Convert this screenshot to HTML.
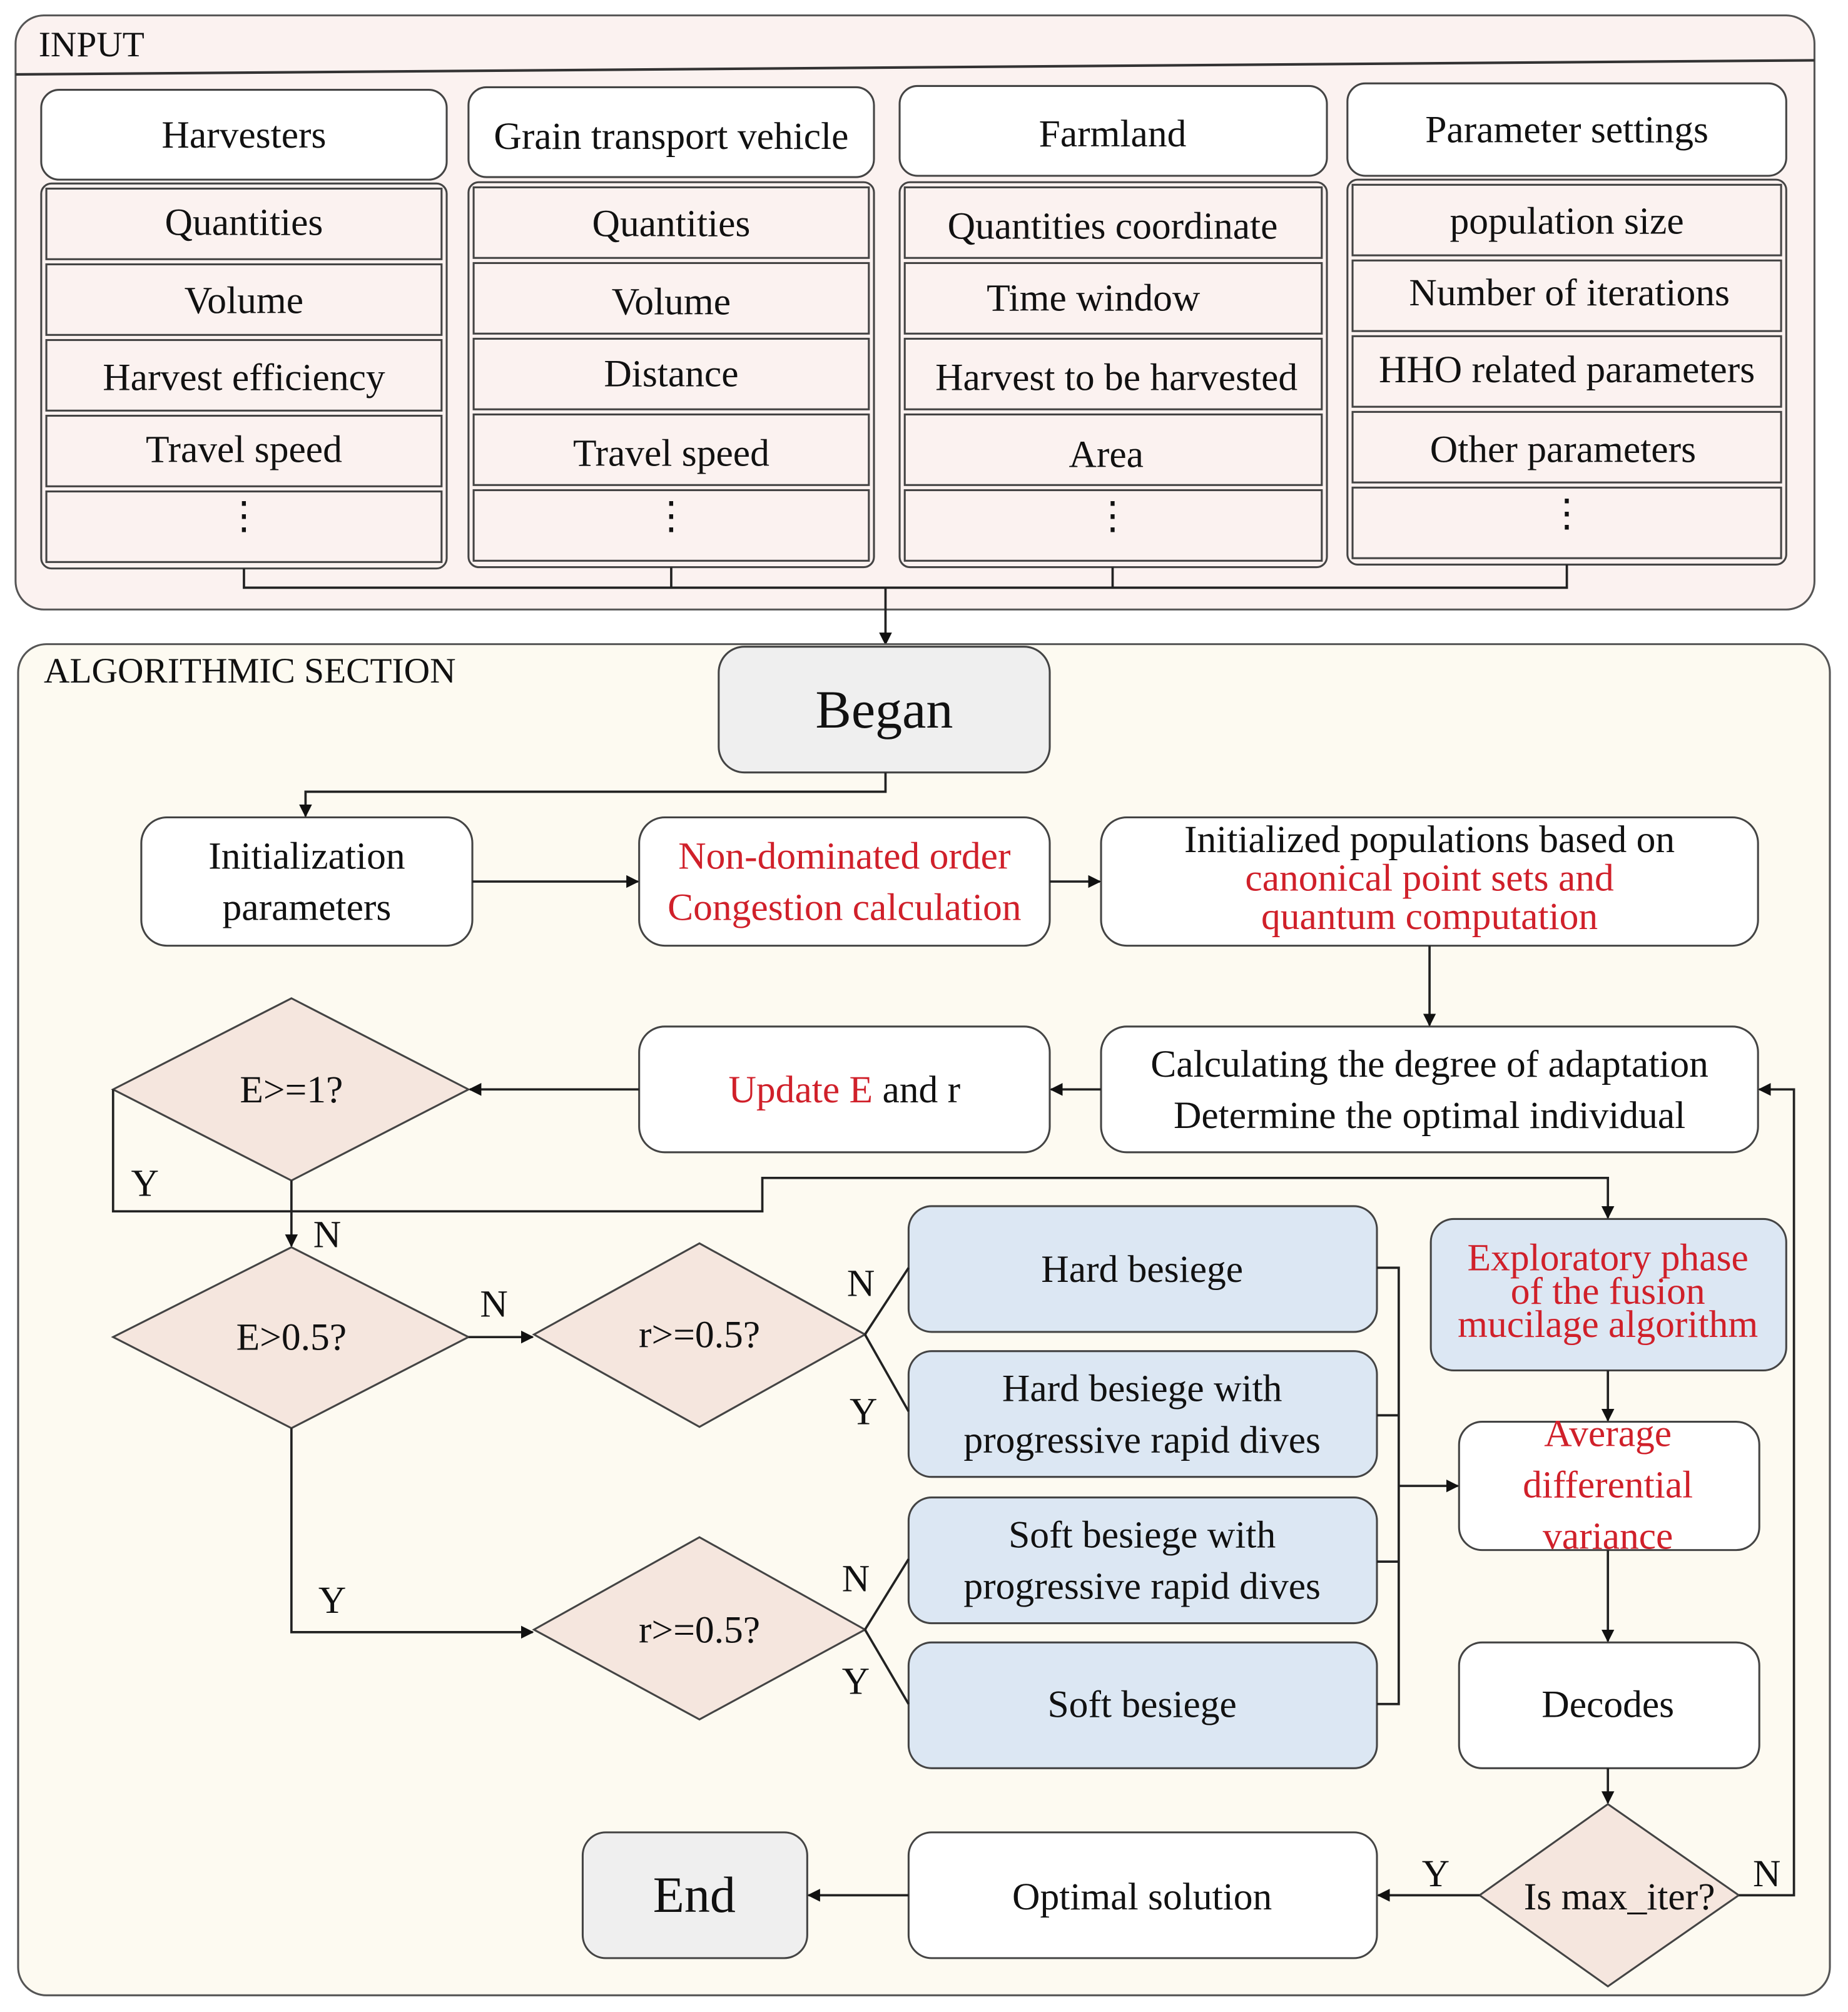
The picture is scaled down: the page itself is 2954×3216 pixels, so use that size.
<!DOCTYPE html>
<html><head><meta charset="utf-8">
<style>
html,body{margin:0;padding:0;background:#fff;}
svg{display:block;}
text{font-family:"Liberation Serif",serif;font-size:30px;fill:#111;}
.r{fill:#d0202a;}
</style></head>
<body>
<svg width="2954" height="3216" viewBox="0 0 1440 1568" xmlns="http://www.w3.org/2000/svg">
<defs>
<marker id="a" markerWidth="10" markerHeight="10" refX="9" refY="5" orient="auto" markerUnits="userSpaceOnUse">
<path d="M0,0 L10,5 L0,10 z" fill="#111"/></marker>
</defs>
<rect width="1440" height="1568" fill="#fff"/>
<!-- INPUT -->
<rect x="12" y="12" width="1402" height="463" rx="22" fill="#fbf2f0" stroke="#555" stroke-width="1.5"/>
<line x1="12" y1="58" x2="1414" y2="47" stroke="#333" stroke-width="2"/>
<text x="30" y="44" style="font-size:28px">INPUT</text>
<g fill="#fff" stroke="#444" stroke-width="1.5">
<rect x="32" y="70" width="316" height="70" rx="14"/>
<rect x="365" y="68" width="316" height="70" rx="14"/>
<rect x="701" y="67" width="333" height="70" rx="14"/>
<rect x="1050" y="65" width="342" height="72" rx="14"/>
</g>
<g fill="#fbf2f0" stroke="#444" stroke-width="1.5">
<rect x="32" y="143" width="316" height="300" rx="8"/>
<rect x="365" y="142" width="316" height="300" rx="8"/>
<rect x="701" y="142" width="333" height="300" rx="8"/>
<rect x="1050" y="140" width="342" height="300" rx="8"/>
</g>
<g fill="none" stroke="#444" stroke-width="1.5">
<rect x="36" y="147" width="308" height="55"/><rect x="36" y="206" width="308" height="55"/><rect x="36" y="265" width="308" height="55"/><rect x="36" y="324" width="308" height="55"/><rect x="36" y="383" width="308" height="55"/>
<rect x="369" y="146" width="308" height="55"/><rect x="369" y="205" width="308" height="55"/><rect x="369" y="264" width="308" height="55"/><rect x="369" y="323" width="308" height="55"/><rect x="369" y="382" width="308" height="55"/>
<rect x="705" y="146" width="325" height="55"/><rect x="705" y="205" width="325" height="55"/><rect x="705" y="264" width="325" height="55"/><rect x="705" y="323" width="325" height="55"/><rect x="705" y="382" width="325" height="55"/>
<rect x="1054" y="144" width="334" height="55"/><rect x="1054" y="203" width="334" height="55"/><rect x="1054" y="262" width="334" height="55"/><rect x="1054" y="321" width="334" height="55"/><rect x="1054" y="380" width="334" height="55"/>
</g>
<g text-anchor="middle">
<text x="190" y="115">Harvesters</text>
<text x="523" y="116">Grain transport vehicle</text>
<text x="867" y="114">Farmland</text>
<text x="1221" y="111">Parameter settings</text>
<text x="190" y="183">Quantities</text><text x="190" y="244">Volume</text><text x="190" y="304">Harvest efficiency</text><text x="190" y="360">Travel speed</text><text x="190" y="412">⋮</text>
<text x="523" y="184">Quantities</text><text x="523" y="245">Volume</text><text x="523" y="301">Distance</text><text x="523" y="363">Travel speed</text><text x="523" y="412">⋮</text>
<text x="867" y="186">Quantities coordinate</text><text x="852" y="242">Time window</text><text x="870" y="304">Harvest to be harvested</text><text x="862" y="364">Area</text><text x="867" y="412">⋮</text>
<text x="1221" y="182">population size</text><text x="1223" y="238">Number of iterations</text><text x="1221" y="298">HHO related parameters</text><text x="1218" y="360">Other parameters</text><text x="1221" y="410">⋮</text>
</g>
<g fill="none" stroke="#222" stroke-width="1.8">
<path d="M190,443 V458 H1221 V440 M523,442 V458 M867,442 V458"/>
<path d="M690,458 V502" marker-end="url(#a)"/>
</g>
<!-- ALGO -->
<rect x="14" y="502" width="1412" height="1053" rx="22" fill="#fdfaf1" stroke="#555" stroke-width="1.5"/>
<text x="34" y="532" style="font-size:28px">ALGORITHMIC SECTION</text>
<g stroke="#444" stroke-width="1.5">
<rect x="560" y="504" width="258" height="98" rx="20" fill="#efefef"/>
<rect x="110" y="637" width="258" height="100" rx="20" fill="#fff"/>
<rect x="498" y="637" width="320" height="100" rx="20" fill="#fff"/>
<rect x="858" y="637" width="512" height="100" rx="20" fill="#fff"/>
<rect x="858" y="800" width="512" height="98" rx="20" fill="#fff"/>
<rect x="498" y="800" width="320" height="98" rx="20" fill="#fff"/>
<rect x="708" y="940" width="365" height="98" rx="18" fill="#dce7f3"/>
<rect x="708" y="1053" width="365" height="98" rx="18" fill="#dce7f3"/>
<rect x="708" y="1167" width="365" height="98" rx="18" fill="#dce7f3"/>
<rect x="708" y="1280" width="365" height="98" rx="18" fill="#dce7f3"/>
<rect x="1115" y="950" width="277" height="118" rx="18" fill="#dce7f3"/>
<rect x="1137" y="1108" width="234" height="100" rx="18" fill="#fff"/>
<rect x="1137" y="1280" width="234" height="98" rx="18" fill="#fff"/>
<rect x="708" y="1428" width="365" height="98" rx="18" fill="#fff"/>
<rect x="454" y="1428" width="175" height="98" rx="18" fill="#efefef"/>
<polygon points="88,849 227,778 365,849 227,920" fill="#f5e6de"/>
<polygon points="88,1042 227,972 365,1042 227,1113" fill="#f5e6de"/>
<polygon points="416,1040 545,969 674,1040 545,1112" fill="#f5e6de"/>
<polygon points="416,1270 545,1198 674,1270 545,1340" fill="#f5e6de"/>
<polygon points="1153,1477 1253,1406 1355,1477 1253,1548" fill="#f5e6de"/>
</g>
<g fill="none" stroke="#222" stroke-width="1.8">
<path d="M690,602 V617 H238 V636" marker-end="url(#a)"/>
<path d="M368,687 H497" marker-end="url(#a)"/>
<path d="M818,687 H857" marker-end="url(#a)"/>
<path d="M1114,737 V799" marker-end="url(#a)"/>
<path d="M858,849 H819" marker-end="url(#a)"/>
<path d="M498,849 H366" marker-end="url(#a)"/>
<path d="M88,849 V944 H594 V918 H1253 V949" marker-end="url(#a)"/>
<path d="M227,920 V971" marker-end="url(#a)"/>
<path d="M365,1042 H415" marker-end="url(#a)"/>
<path d="M674,1040 L708,988 M674,1040 L708,1100 M674,1270 L708,1215 M674,1270 L708,1328"/>
<path d="M227,1113 V1272 H415" marker-end="url(#a)"/>
<path d="M1073,988 H1090 V1328 H1073 M1073,1103 H1090 M1073,1217 H1090"/>
<path d="M1090,1158 H1136" marker-end="url(#a)"/>
<path d="M1253,1068 V1107" marker-end="url(#a)"/>
<path d="M1253,1208 V1279" marker-end="url(#a)"/>
<path d="M1253,1378 V1405" marker-end="url(#a)"/>
<path d="M1355,1477 H1398 V849 H1371" marker-end="url(#a)"/>
<path d="M1153,1477 H1074" marker-end="url(#a)"/>
<path d="M708,1477 H630" marker-end="url(#a)"/>
</g>
<g text-anchor="middle">
<text x="689" y="567" style="font-size:42px">Began</text>
<text x="239" y="677">Initialization</text><text x="239" y="717">parameters</text>
<text x="658" y="677" class="r">Non-dominated order</text><text x="658" y="717" class="r">Congestion calculation</text>
<text x="1114" y="664">Initialized populations based on</text>
<text x="1114" y="694" class="r">canonical point sets and</text>
<text x="1114" y="724" class="r">quantum computation</text>
<text x="1114" y="839">Calculating the degree of adaptation</text>
<text x="1114" y="879">Determine the optimal individual</text>
<text x="658" y="859"><tspan class="r">Update E</tspan> and r</text>
<text x="227" y="859">E&gt;=1?</text>
<text x="227" y="1052">E&gt;0.5?</text>
<text x="545" y="1050">r&gt;=0.5?</text>
<text x="545" y="1280">r&gt;=0.5?</text>
<text x="890" y="999">Hard besiege</text>
<text x="890" y="1092">Hard besiege with</text><text x="890" y="1132">progressive rapid dives</text>
<text x="890" y="1206">Soft besiege with</text><text x="890" y="1246">progressive rapid dives</text>
<text x="890" y="1338">Soft besiege</text>
<text x="1253" y="990" class="r">Exploratory phase</text>
<text x="1253" y="1016" class="r">of the fusion</text>
<text x="1253" y="1042" class="r">mucilage algorithm</text>
<text x="1253" y="1127" class="r">Average</text>
<text x="1253" y="1167" class="r">differential</text>
<text x="1253" y="1207" class="r">variance</text>
<text x="1253" y="1338">Decodes</text>
<text x="1262" y="1488">Is max_iter?</text>
<text x="890" y="1488">Optimal solution</text>
<text x="541" y="1490" style="font-size:40px">End</text>
</g>
<text x="102" y="932">Y</text>
<text x="244" y="972">N</text>
<text x="374" y="1026">N</text>
<text x="660" y="1010">N</text>
<text x="662" y="1110">Y</text>
<text x="248" y="1257">Y</text>
<text x="656" y="1240">N</text>
<text x="656" y="1320">Y</text>
<text x="1108" y="1470">Y</text>
<text x="1366" y="1470">N</text>
</svg>
</body></html>
